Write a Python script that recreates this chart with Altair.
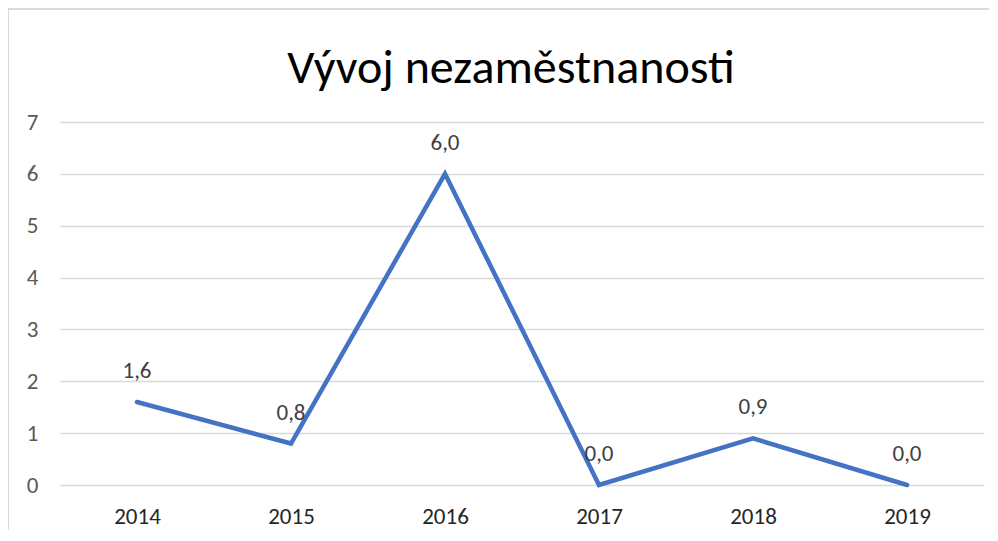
import altair as alt
import pandas as pd

years = ["2014", "2015", "2016", "2017", "2018", "2019"]
values = [1.6, 0.8, 6.0, 0.0, 0.9, 0.0]
title_text = "Vývoj nezaměstnanosti"

df = pd.DataFrame({"rok": years, "hodnota": values})
FONT = "Carlito, Open Sans"

base = alt.Chart(df).encode(
    x=alt.X("rok:N", sort=years, title=None,
            scale=alt.Scale(paddingInner=0, paddingOuter=0, align=0.5),
            axis=alt.Axis(labelAngle=0, ticks=False, domain=False, grid=False,
                          labelPadding=20, labelFontSize=23, labelColor="#262626",
                          labelFont=FONT)),
    y=alt.Y("hodnota:Q", title=None,
            scale=alt.Scale(domain=[0, 7], nice=False),
            axis=alt.Axis(values=[0, 1, 2, 3, 4, 5, 6, 7], ticks=False, domain=False,
                          grid=True, gridColor="#d9d9d9", gridWidth=1.5,
                          labelPadding=22, labelFontSize=23, labelColor="#595959",
                          labelFont=FONT)),
)

border = alt.Chart(df).mark_rect(filled=False, stroke="#d9d9d9", strokeWidth=1.5).encode(
    x=alt.value(-52), x2=alt.value(940), y=alt.value(-113), y2=alt.value(460)
)

title = alt.Chart(pd.DataFrame({"t": [title_text]})).mark_text(
    fontSize=48, font=FONT, color="#000000", baseline="alphabetic", align="center"
).encode(x=alt.value(451), y=alt.value(-39), text="t:N")

line = base.mark_line(color="#4472C4", strokeWidth=4.5, strokeCap="round", strokeJoin="miter")

labels = base.transform_calculate(
    lab="replace(format(datum.hodnota, '.1f'), '.', ',')"
).mark_text(dy=-31, fontSize=23, color="#404040", font=FONT).encode(text="lab:N")

chart = alt.layer(border, title, line, labels).properties(
    width=924, height=363,
    autosize=alt.AutoSizeParams(type="none"),
    padding={"left": 52, "top": 114, "right": 5, "bottom": 45},
).configure_view(stroke=None)

chart.save("out.html", embed_options={"renderer": "svg", "actions": False})
